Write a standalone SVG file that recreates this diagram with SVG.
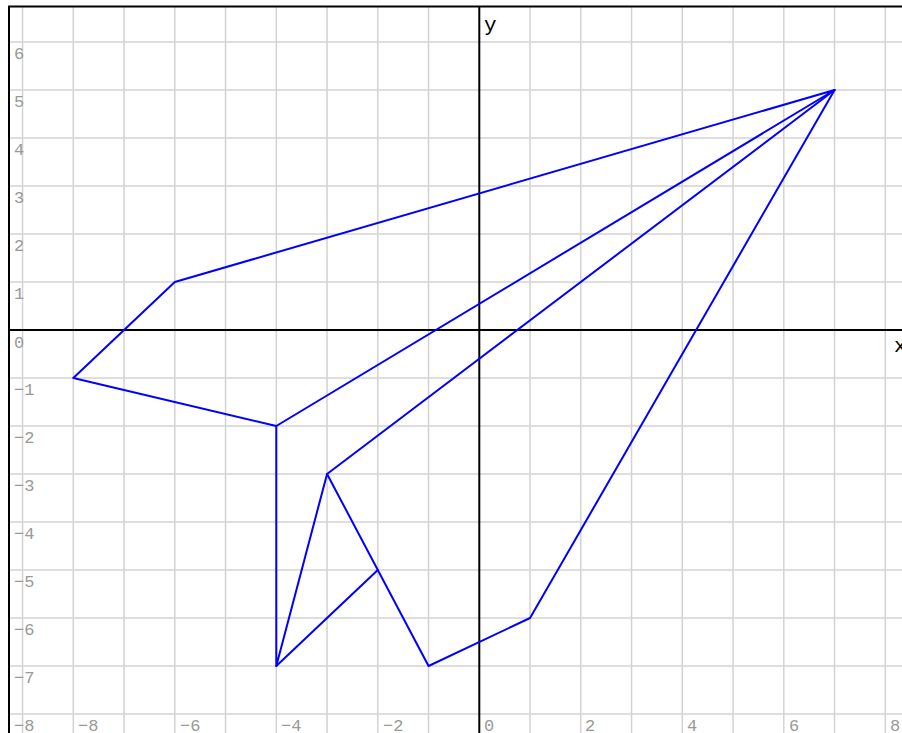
<svg xmlns="http://www.w3.org/2000/svg" width="902" height="733" viewBox="0 0 902 733">
<style>
.grid{stroke:#d3d3d3;stroke-width:1.5;fill:none}
.axis{stroke:#000;stroke-width:2;fill:none}
.lbl{font-family:"Liberation Mono","DejaVu Sans Mono",monospace;font-size:17px;fill:#999}
.axlbl{font-family:"Liberation Mono","DejaVu Sans Mono",monospace;font-size:21px;fill:#000}
.edge{stroke:#0000ff;stroke-width:2;fill:none;stroke-linejoin:round;stroke-linecap:round}
</style>
<rect width="902" height="733" fill="#fff"/>
<g id="grid">
<path class="grid" d="M22.55 7V733M73.3 7V733M124.05 7V733M174.8 7V733M225.55 7V733M276.3 7V733M327.05 7V733M377.8 7V733M428.55 7V733M530.05 7V733M580.8 7V733M631.55 7V733M682.3 7V733M733.05 7V733M783.8 7V733M834.55 7V733M885.3 7V733"/>
<path class="grid" d="M9 42H902M9 90H902M9 138H902M9 186H902M9 234H902M9 282H902M9 378H902M9 426H902M9 474H902M9 522H902M9 570H902M9 618H902M9 666H902M9 714H902"/>
</g>
<g id="frame">
<path class="axis" d="M9 6V733M8 6.5H902"/>
</g>
<g id="axes">
<path class="axis" d="M9 330H902M479.3 6V733"/>
<text class="axlbl" x="484" y="31">y</text>
<text class="axlbl" x="894" y="352">x</text>
</g>
<g id="ylabels" class="lbl">
<text x="14" y="59">6</text>
<text x="14" y="107">5</text>
<text x="14" y="155">4</text>
<text x="14" y="203">3</text>
<text x="14" y="251">2</text>
<text x="14" y="299">1</text>
<text x="14" y="348">0</text>
<text x="14" y="395">−1</text>
<text x="14" y="443">−2</text>
<text x="14" y="491">−3</text>
<text x="14" y="539">−4</text>
<text x="14" y="587">−5</text>
<text x="14" y="635">−6</text>
<text x="14" y="683">−7</text>
<text x="14" y="731">−8</text>
</g>
<g id="xlabels" class="lbl">
<text x="78" y="731">−8</text>
<text x="180" y="731">−6</text>
<text x="281" y="731">−4</text>
<text x="383" y="731">−2</text>
<text x="484" y="731">0</text>
<text x="585" y="731">2</text>
<text x="687" y="731">4</text>
<text x="789" y="731">6</text>
<text x="890" y="731">8</text>
</g>
<g id="connectors">
<path class="edge" d="M834.55 90L174.8 282L73.3 378L276.3 426L834.55 90"/>
<path class="edge" d="M276.3 426V666L327.05 474L834.55 90"/>
<path class="edge" d="M276.3 666L377.8 570"/>
<path class="edge" d="M327.05 474L428.55 666L530.05 618L834.55 90"/>
</g>
</svg>
